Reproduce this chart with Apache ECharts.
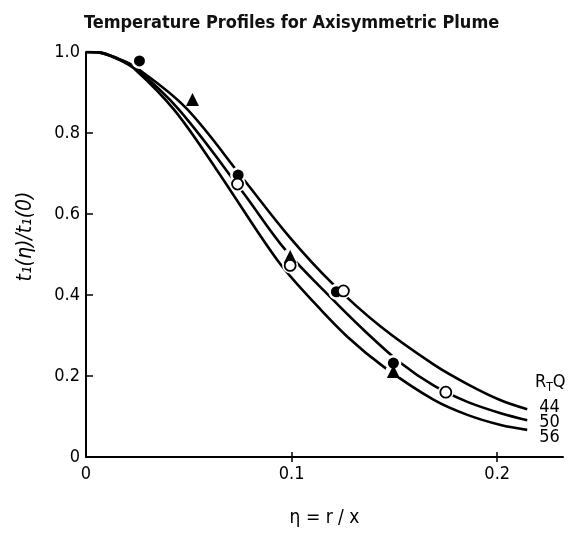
<!DOCTYPE html>
<html>
<head>
<meta charset="utf-8">
<title>Temperature Profiles for Axisymmetric Plume</title>
<script src="https://cdn.jsdelivr.net/npm/echarts@6/dist/echarts.min.js"></script>
<style>
    html, body { margin: 0; padding: 0; background: #fff; }
    #chart { width: 568px; height: 540px; }
</style>
</head>
<body>
<div id="chart"></div>
<script>
// curves, [eta, t1(eta)/t1(0)]
var curve44 = [
    [0, 1.0], [0.006, 0.999], [0.016, 0.983], [0.0243, 0.962], [0.0486, 0.862],
    [0.0769, 0.684], [0.099, 0.543], [0.1199, 0.428], [0.1433, 0.322], [0.1692, 0.228],
    [0.1855, 0.18], [0.2017, 0.14], [0.2146, 0.118]
];
var curve50 = [
    [0, 1.0], [0.006, 0.999], [0.016, 0.982], [0.0243, 0.959], [0.0453, 0.857],
    [0.0761, 0.655], [0.0972, 0.51], [0.119, 0.394], [0.1352, 0.313], [0.1531, 0.232],
    [0.1692, 0.176], [0.1855, 0.136], [0.2017, 0.108], [0.2146, 0.091]
];
var curve56 = [
    [0, 1.0], [0.006, 0.999], [0.016, 0.981], [0.0243, 0.955], [0.0429, 0.857],
    [0.0632, 0.712], [0.0931, 0.486], [0.111, 0.381], [0.1271, 0.297], [0.145, 0.222],
    [0.1692, 0.141], [0.1855, 0.104], [0.2017, 0.079], [0.2146, 0.067]
];
var curveNames = ['44', '50', '56'];

// measured points
var filledCircles = [[0.026, 0.978], [0.074, 0.696], [0.1218, 0.408], [0.1495, 0.232]];
var triangles = [[0.0518, 0.883], [0.0993, 0.495], [0.1495, 0.211]];
var openCircles = [[0.0737, 0.674], [0.0993, 0.473], [0.1252, 0.41], [0.175, 0.16]];

var xTicks = [0, 0.1, 0.2];
var xTickLabels = ['0', '0.1', '0.2'];
var yTicks = [0, 0.2, 0.4, 0.6, 0.8, 1.0];
var yTickLabels = ['0', '0.2', '0.4', '0.6', '0.8', '1.0'];

var FONT = '"Liberation Sans Narrow", "DejaVu Sans Condensed", "Liberation Sans", sans-serif';

function lineSeries(name, data, labelShift) {
    return {
        type: 'line',
        name: name,
        data: data,
        showSymbol: false,
        smooth: 0.35,
        lineStyle: { color: '#000', width: 2.6 },
        endLabel: {
            show: true,
            formatter: '{a}',
            distance: 12,
            offset: [0, labelShift],
            color: '#000',
            fontSize: 18,
            fontFamily: FONT
        },
        z: 2,
        silent: true
    };
}

function pick(list, labels) {
    return function (v) {
        for (var i = 0; i < list.length; i++) {
            if (Math.abs(list[i] - v) < 1e-6) return labels[i];
        }
        return '';
    };
}

var option = {
    animation: false,
    backgroundColor: '#fff',
    title: {
        text: 'Temperature Profiles for Axisymmetric Plume',
        left: 84,
        top: 9,
        padding: [5, 0, 5, 0],
        textStyle: { fontFamily: FONT, fontWeight: 'bold', fontSize: 18, color: '#111' }
    },
    grid: { left: 86, right: 5, top: 52, bottom: 83 },
    xAxis: [{
        type: 'value',
        min: 0,
        max: 0.232,
        interval: 0.1,
        name: 'η = r / x',
        nameLocation: 'middle',
        nameGap: 52,
        nameTextStyle: { fontFamily: FONT, fontSize: 19, color: '#000' },
        axisLine: { lineStyle: { color: '#000', width: 2 } },
        axisTick: { inside: true, length: 5, customValues: xTicks, lineStyle: { color: '#000', width: 1.5 } },
        axisLabel: {
            margin: 8,
            color: '#000',
            fontSize: 18,
            fontFamily: FONT,
            customValues: xTicks,
            formatter: pick(xTicks, xTickLabels)
        },
        splitLine: { show: false }
    }, {
        type: 'value',
        min: 0,
        max: 0.232,
        interval: 0.1,
        position: 'bottom',
        axisLine: { show: false },
        axisTick: { inside: false, length: 5, customValues: [xTicks[1], xTicks[2]], lineStyle: { color: '#000', width: 1.5 } },
        axisLabel: { show: false },
        splitLine: { show: false }
    }],
    yAxis: {
        type: 'value',
        min: 0,
        max: 1,
        interval: 0.2,
        name: 't₁(η)/t₁(0)',
        nameLocation: 'middle',
        nameGap: 50,
        nameTextStyle: {
            fontFamily: FONT, fontSize: 21, fontStyle: 'italic', color: '#000',
            padding: [0, 0, 0, 36]
        },
        axisLine: { lineStyle: { color: '#000', width: 2 } },
        axisTick: { inside: true, length: 7, customValues: yTicks, lineStyle: { color: '#000', width: 1.5 } },
        axisLabel: {
            margin: 6,
            color: '#000',
            fontSize: 18,
            fontFamily: FONT,
            customValues: yTicks,
            formatter: pick(yTicks, yTickLabels)
        },
        splitLine: { show: false }
    },
    graphic: [{
        type: 'text',
        left: 535,
        top: 373,
        style: {
            text: '{a|R}{b|T}{a|Q}',
            rich: {
                a: { fontSize: 18, fontFamily: FONT, fill: '#000', color: '#000' },
                b: { fontSize: 12, fontFamily: FONT, fill: '#000', color: '#000', padding: [11, 0, 0, 0] }
            }
        }
    }],
    series: [
        lineSeries(curveNames[0], curve44, -2),
        lineSeries(curveNames[1], curve50, 2),
        lineSeries(curveNames[2], curve56, 7),
        {
            // white halo gives the broken-line look around markers
            type: 'scatter',
            data: filledCircles.concat(triangles, openCircles),
            symbol: 'circle',
            symbolSize: 16,
            itemStyle: { color: '#fff', opacity: 1 },
            z: 3,
            silent: true
        },
        {
            type: 'scatter',
            data: filledCircles,
            symbol: 'circle',
            symbolSize: 11,
            itemStyle: { color: '#000', opacity: 1 },
            z: 4,
            silent: true
        },
        {
            type: 'scatter',
            data: triangles,
            symbol: 'triangle',
            symbolSize: 13,
            itemStyle: { color: '#000', opacity: 1 },
            z: 5,
            silent: true
        },
        {
            type: 'scatter',
            data: openCircles,
            symbol: 'circle',
            symbolSize: 11,
            itemStyle: { color: '#fff', borderColor: '#000', borderWidth: 1.8, opacity: 1 },
            z: 6,
            silent: true
        }
    ]
};

var chart = echarts.init(document.getElementById('chart'));
chart.setOption(option);
</script>
</body>
</html>
